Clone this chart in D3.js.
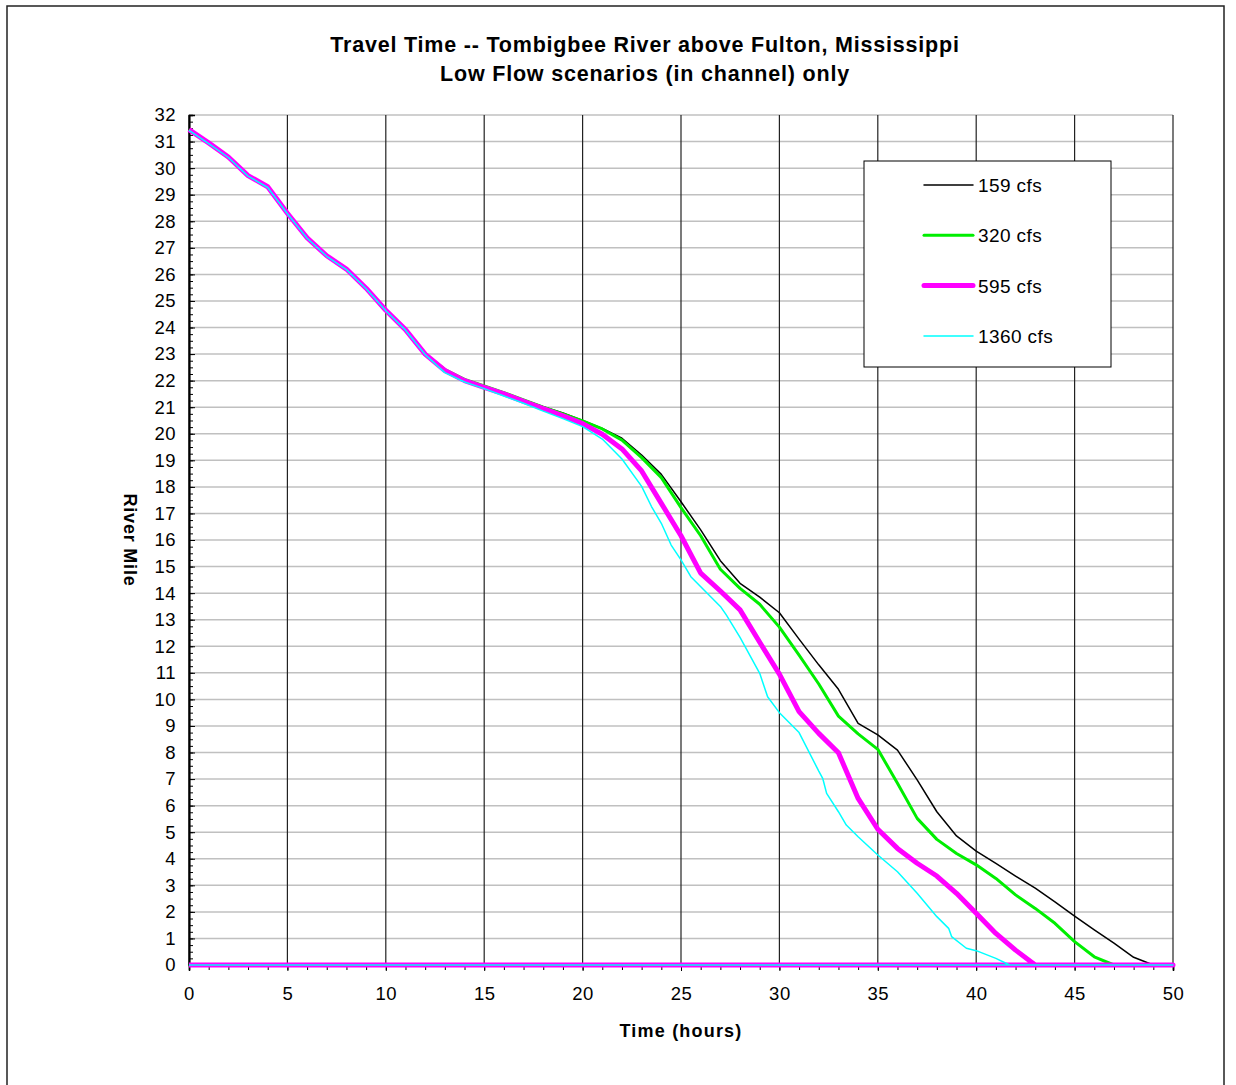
<!DOCTYPE html>
<html>
<head>
<meta charset="utf-8">
<script src="https://cdn.jsdelivr.net/npm/d3@7"></script>
<style>
  body { margin: 0; background: #fff; }
  text { font-family: "Liberation Sans", Arial, sans-serif; fill: #000; }
</style>
</head>
<body>
<div id="chart"></div>
<script>

// data (time in hours, river mile)
var t159 = [0,1,2,3,4,5,6,7,8,9,10,11,12,13,14,15,16,17,18,19,20,21,22,23,24,25,26,27,28,29,30,31,32,33,34,35,36,37,38,39,40,41,42,43,44,45,46,47,48,49,50,0];
var m159 = [31.45,30.95,30.42,29.72,29.3,28.3,27.38,26.7,26.2,25.48,24.65,23.92,23.0,22.42,22.05,21.8,21.55,21.28,21.02,20.78,20.5,20.2,19.83,19.2,18.47,17.44,16.38,15.22,14.37,13.85,13.26,12.27,11.3,10.38,9.1,8.66,8.09,6.97,5.77,4.86,4.29,3.83,3.35,2.89,2.38,1.84,1.32,0.82,0.29,0,0,0];

var t320 = [0,1,2,3,4,5,6,7,8,9,10,11,12,13,14,15,16,17,18,19,20,21,22,23,24,25,26,27,28,29,30,31,32,33,34,35,36,37,38,39,40,41,42,43,44,45,46,47,50,0];
var m320 = [31.45,30.95,30.42,29.72,29.3,28.3,27.38,26.7,26.2,25.48,24.65,23.92,23.0,22.42,22.05,21.8,21.55,21.27,21.0,20.75,20.48,20.18,19.76,19.1,18.35,17.22,16.16,14.9,14.18,13.58,12.72,11.67,10.58,9.37,8.7,8.12,6.84,5.52,4.73,4.2,3.77,3.26,2.64,2.13,1.57,0.88,0.31,0,0,0];

var t595 = [0,1,2,3,4,5,6,7,8,9,10,11,12,13,14,15,16,17,18,19,20,21,22,23,24,25,26,27,28,29,30,31,32,33,34,35,36,37,38,39,40,41,42,43,50,0];
var m595 = [31.45,30.95,30.42,29.72,29.3,28.3,27.38,26.7,26.2,25.48,24.65,23.92,23.0,22.38,22.0,21.75,21.5,21.22,20.95,20.67,20.38,19.98,19.43,18.6,17.38,16.16,14.75,14.08,13.37,12.15,10.95,9.54,8.72,7.99,6.27,5.11,4.39,3.83,3.35,2.7,1.95,1.19,0.56,0,0,0];

var t1360 = [0,1,2,3,4,5,6,7,8,9,10,11,12,13,14,15,16,17,18,19,20,21,22,23,23.5,24,24.5,25,25.5,27,27.3,28,29,29.4,30,31,32,32.2,32.4,33,33.4,34,35,36,37,38,38.6,38.75,39.5,40,41,41.7,50,0];
var m1360 = [31.42,30.92,30.4,29.7,29.27,28.28,27.36,26.68,26.18,25.46,24.63,23.9,22.98,22.3,21.95,21.7,21.42,21.15,20.85,20.57,20.27,19.8,19.05,18.02,17.26,16.63,15.81,15.25,14.62,13.5,13.18,12.33,10.98,10.1,9.5,8.75,7.3,7.03,6.46,5.77,5.27,4.83,4.14,3.51,2.7,1.82,1.38,1.07,0.63,0.54,0.25,0,0,0];

var seriesNames  = ['159 cfs', '320 cfs', '595 cfs', '1360 cfs'];
var seriesColors = ['#000000', '#00ee00', '#ff00ff', '#00ffff'];
var seriesWidths = [1.5, 3, 5, 1.5];

var xTicks = [0,5,10,15,20,25,30,35,40,45,50];
var yTicks = d3.range(0, 33, 1);

var titleLines = ['Travel Time -- Tombigbee River above Fulton, Mississippi',
                  'Low Flow scenarios (in channel) only'];

function generate(){
  var width = 1236, height = 1085;
  var left = 189, right = 1173, top = 115, bottom = 965;

  var svg = d3.select('#chart')
    .append('svg')
    .attr('width', width)
    .attr('height', height);

  // outer frame
  svg.append('rect')
    .attr('x', 7).attr('y', 6)
    .attr('width', 1217).attr('height', 1090)
    .attr('fill', '#fff')
    .attr('stroke', '#222')
    .attr('stroke-width', 1.5);

  var x = d3.scaleLinear().domain([0, 50]).range([left, right]);
  var y = d3.scaleLinear().domain([0, 32]).range([bottom, top]);

  // horizontal grid
  svg.append('g')
    .selectAll('line')
    .data(yTicks)
    .enter()
    .append('line')
    .attr('x1', left).attr('x2', right)
    .attr('y1', function(d){ return y(d); })
    .attr('y2', function(d){ return y(d); })
    .attr('stroke', '#c0c0c0')
    .attr('stroke-width', 1.5);

  // vertical grid
  svg.append('g')
    .selectAll('line')
    .data(xTicks)
    .enter()
    .append('line')
    .attr('y1', top).attr('y2', bottom)
    .attr('x1', function(d){ return x(d); })
    .attr('x2', function(d){ return x(d); })
    .attr('stroke', '#222')
    .attr('stroke-width', 1.2);

  // minor ticks
  var xMinor = d3.axisBottom(x).tickValues(d3.range(0, 51, 1)).tickSize(5).tickFormat('');
  svg.append('g')
    .attr('transform', 'translate(0,' + bottom + ')')
    .call(xMinor);

  var yMinor = d3.axisRight(y).tickValues(d3.range(0, 32.01, 0.25)).tickSize(4).tickFormat('');
  svg.append('g')
    .attr('transform', 'translate(' + left + ',0)')
    .call(yMinor);

  // major axes
  var xAxis = d3.axisBottom(x).tickValues(xTicks).tickSize(6).tickPadding(16);
  var gx = svg.append('g')
    .attr('transform', 'translate(0,' + bottom + ')')
    .call(xAxis);
  gx.selectAll('text').style('font-size', '18.5px').style('letter-spacing', '0.5px');

  var yAxis = d3.axisLeft(y).tickValues(yTicks).tickSize(0).tickPadding(13);
  var gy = svg.append('g')
    .attr('transform', 'translate(' + left + ',0)')
    .call(yAxis);
  gy.selectAll('text').style('font-size', '18.5px').style('letter-spacing', '0.5px');

  svg.append('g')
    .attr('transform', 'translate(' + left + ',0)')
    .call(d3.axisRight(y).tickValues(yTicks).tickSize(6).tickFormat(''));

  svg.selectAll('.domain').attr('stroke', '#000').attr('stroke-width', 1.5);
  svg.selectAll('.tick line').attr('stroke', '#000');

  // series
  var tData = [t159, t320, t595, t1360];
  var mData = [m159, m320, m595, m1360];

  var line = d3.line()
    .x(function(d){ return x(d[0]); })
    .y(function(d){ return y(d[1]); });

  for (var i = 0; i < 4; i++) {
    var pts = tData[i].map(function(t, j){ return [t, mData[i][j]]; });
    svg.append('path')
      .datum(pts)
      .attr('d', line)
      .attr('fill', 'none')
      .attr('stroke', seriesColors[i])
      .attr('stroke-width', seriesWidths[i])
      .attr('stroke-linejoin', 'round');
  }

  // legend
  var lg = svg.append('g');
  lg.append('rect')
    .attr('x', 864).attr('y', 161)
    .attr('width', 247).attr('height', 206)
    .attr('fill', '#fff')
    .attr('stroke', '#000')
    .attr('stroke-width', 1);

  seriesNames.forEach(function(name, i){
    var ly = 185 + i * 50.3;
    lg.append('line')
      .attr('x1', 924).attr('x2', 973)
      .attr('y1', ly).attr('y2', ly)
      .attr('stroke', seriesColors[i])
      .attr('stroke-width', seriesWidths[i])
      .attr('stroke-linecap', 'round');
    lg.append('text')
      .attr('x', 978).attr('y', ly + 7)
      .style('font-size', '19px')
      .style('letter-spacing', '0.4px')
      .text(name);
  });

  // titles
  svg.selectAll('.title')
    .data(titleLines)
    .enter()
    .append('text')
    .attr('class', 'title')
    .attr('x', 645)
    .attr('y', function(d, i){ return 52 + i * 29; })
    .attr('text-anchor', 'middle')
    .style('font-size', '21.5px')
    .style('font-weight', 'bold')
    .style('letter-spacing', '0.8px')
    .text(function(d){ return d; });

  svg.append('text')
    .attr('x', 681).attr('y', 1037)
    .attr('text-anchor', 'middle')
    .style('font-size', '18px')
    .style('font-weight', 'bold')
    .style('letter-spacing', '1.2px')
    .text('Time (hours)');

  svg.append('text')
    .attr('transform', 'translate(124,540) rotate(90)')
    .attr('text-anchor', 'middle')
    .style('font-size', '18px')
    .style('font-weight', 'bold')
    .style('letter-spacing', '0.8px')
    .text('River Mile');
}

generate();
</script>
</body>
</html>
